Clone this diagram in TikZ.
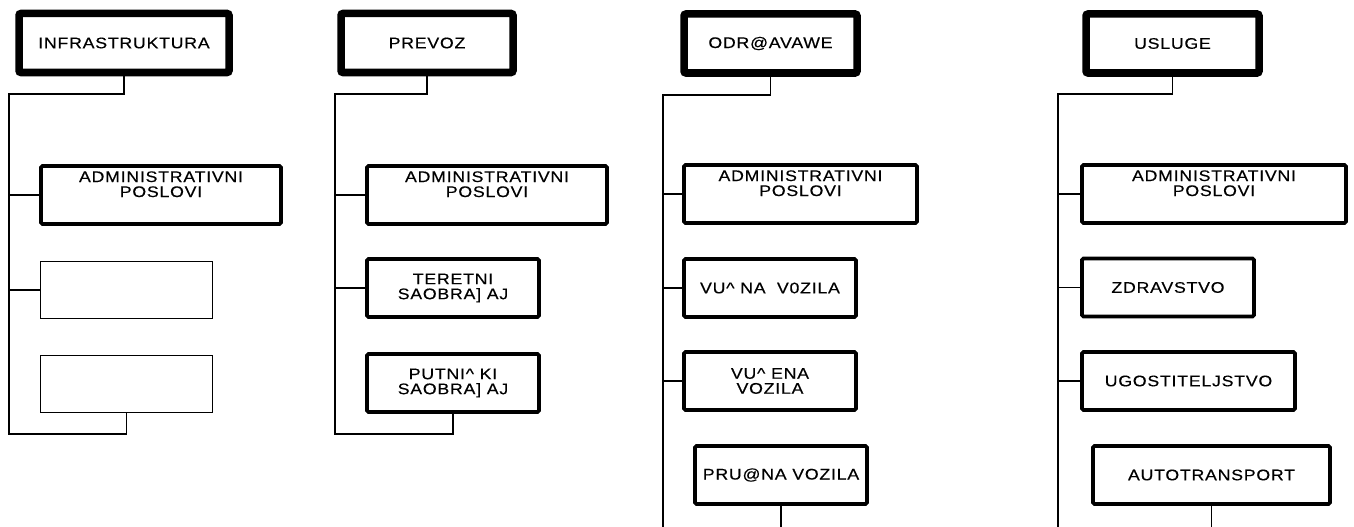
\documentclass[tikz,border=0pt]{standalone}
\usepackage{fontspec}
\setmainfont{Liberation Sans}[FakeStretch=1.15,LetterSpace=5,FakeBold=0.4]
\begin{document}
\begin{tikzpicture}[x=1pt,y=-1pt,
  every node/.style={inner sep=0pt, align=center, font=\fontsize{15.4}{15}\selectfont},
  topbox/.style={draw, line width=7.5pt, rounded corners=2pt, minimum width=#1, minimum height=59pt},
  midbox/.style={draw, line width=3.8pt, rounded corners=1.5pt, minimum width=#1, minimum height=58pt},
  emptybox/.style={draw, line width=1.4pt, minimum width=#1, minimum height=57pt},
  conn/.style={draw, line width=1.4pt},
  lbl/.style={anchor=north}]
\useasboundingbox (0,0) rectangle (1354,527);
% ---------- column 1 ----------
\node[topbox=210pt] (infra) at (124,43) {INFRASTRUKTURA};
\node[midbox=240pt] (adm1) at (161,195) {};
\node[lbl] (adm1t) at ([yshift=-7pt]adm1.north) {ADMINISTRATIVNI\\POSLOVI};
\node[emptybox=172pt] (e1) at (126.5,290) {};
\node[emptybox=172pt] (e2) at (126.5,384) {};
\coordinate (c1a) at (9,94);
\coordinate (c1b) at (9,434);
\draw[conn] (infra.south) |- (c1a) -- (c1b) -| (e2.south);
\draw[conn] (c1a |- adm1.west) -- (adm1.west);
\draw[conn] (c1a |- e1.west) -- (e1.west);
% ---------- column 2 ----------
\node[topbox=172pt] (prevoz) at (427,43) {PREVOZ};
\node[midbox=240pt] (adm2) at (487,195) {};
\node[lbl] (adm2t) at ([yshift=-7pt]adm2.north) {ADMINISTRATIVNI\\POSLOVI};
\node[midbox=172pt] (ter) at (453,288) {TERETNI\\SAOBRA] AJ};
\node[midbox=172pt] (put) at (453,383) {PUTNI\textasciicircum{} KI\\SAOBRA] AJ};
\coordinate (c2a) at (335,94);
\coordinate (c2b) at (335,434);
\draw[conn] (prevoz.south) |- (c2a) -- (c2b) -| (put.south);
\draw[conn] (c2a |- adm2.west) -- (adm2.west);
\draw[conn] (c2a |- ter.west) -- (ter.west);
% ---------- column 3 ----------
\node[topbox=173pt] (odr) at (770.5,43.5) {ODR@AVAWE};
\node[midbox=233pt] (adm3) at (800.5,194) {};
\node[lbl] (adm3t) at ([yshift=-7pt]adm3.north) {ADMINISTRATIVNI\\POSLOVI};
\node[midbox=172pt] (vucna) at (770,288) {VU\textasciicircum{} NA\ \ V0ZILA};
\node[midbox=172pt] (vucena) at (770,381) {VU\textasciicircum{} ENA\\VOZILA};
\node[midbox=172pt] (pruzna) at (781,475) {PRU@NA VOZILA};
\coordinate (c3a) at (663,95);
\coordinate (c3b) at (663,527);
\coordinate (c3c) at (pruzna.south |- c3b);
\draw[conn] (odr.south) |- (c3a) -- (c3b);
\draw[conn] (pruzna.south) -- (c3c);
\draw[conn] (c3a |- adm3.west) -- (adm3.west);
\draw[conn] (c3a |- vucna.west) -- (vucna.west);
\draw[conn] (c3a |- vucena.west) -- (vucena.west);
% ---------- column 4 ----------
\node[topbox=173pt] (usl) at (1172.5,43.5) {USLUGE};
\node[midbox=264pt] (adm4) at (1214,194) {};
\node[lbl] (adm4t) at ([yshift=-7pt]adm4.north) {ADMINISTRATIVNI\\POSLOVI};
\node[midbox=172pt] (zdr) at (1168,287.5) {ZDRAVSTVO};
\node[midbox=213pt] (ugo) at (1188.5,381) {UGOSTITELJSTVO};
\node[midbox=237pt] (auto) at (1211.5,475) {AUTOTRANSPORT};
\coordinate (c4a) at (1058,94);
\coordinate (c4b) at (1058,527);
\coordinate (c4c) at (auto.south |- c4b);
\draw[conn] (usl.south) |- (c4a) -- (c4b);
\draw[conn] (auto.south) -- (c4c);
\draw[conn] (c4a |- adm4.west) -- (adm4.west);
\draw[conn] (c4a |- zdr.west) -- (zdr.west);
\draw[conn] (c4a |- ugo.west) -- (ugo.west);
\end{tikzpicture}
\end{document}
